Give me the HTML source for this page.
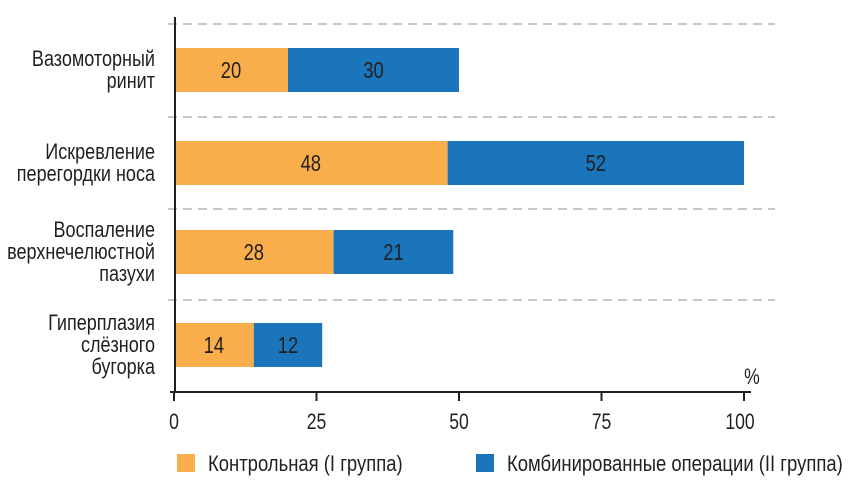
<!DOCTYPE html>
<html><head><meta charset="utf-8"><style>
body{margin:0;background:#fff}
svg text{font-family:"Liberation Sans",sans-serif;fill:#231f20}
</style></head><body>
<svg id="c" width="858" height="486"></svg>
<script>
const categories=[["Вазомоторный","ринит"],["Искревление","перегордки носа"],["Воспаление","верхнечелюстной","пазухи"],["Гиперплазия","слёзного","бугорка"]];
const control=[20,48,28,14];
const combined=[30,52,21,12];
const ticks=[0,25,50,75,100];
const NS="http://www.w3.org/2000/svg",svg=document.getElementById('c');
const x0=174,x1=744;
const xs=v=>x0+(x1-x0)*v/100;
const rowCenters=[70,163,252,345];
function el(t,a,p){const e=document.createElementNS(NS,t);for(const k in a)e.setAttribute(k,a[k]);(p||svg).appendChild(e);return e;}
function txt(x,y,anchor,size,s,sx){const t=el('text',{x:0,y:0,'text-anchor':anchor,'font-size':size,transform:`translate(${x},${y}) scale(${sx||0.8},1)`});t.textContent=s;return t;}
[24,117,209,300].forEach(y=>{const g=el('line',{x1:168,x2:775,y1:y,y2:y,stroke:'#c8c8c8','stroke-width':2,'stroke-dasharray':'9,6'});

});
categories.forEach((c,i)=>{const cy=rowCenters[i],h=44;
const a=el('rect',{x:xs(0)+2,y:cy-h/2,width:xs(control[i])-xs(0)-2,height:h,fill:'#f9ae4b'});


const b=el('rect',{x:xs(control[i]),y:cy-h/2,width:xs(control[i]+combined[i])-xs(control[i]),height:h,fill:'#1b75bb'});


const t1=txt((xs(0)+xs(control[i]))/2,cy+8,'middle',23,control[i]);


const t2=txt((xs(control[i])+xs(control[i]+combined[i]))/2,cy+8,'middle',23,combined[i]);


const lh=22,start=cy-(c.length-1)*lh/2+7;
c.forEach((s,j)=>{const t=txt(155,start+j*lh,'end',22,s,0.82);

});
});
const ya=el('line',{x1:175,x2:175,y1:17,y2:393,stroke:'#231f20','stroke-width':2});


const xa=el('line',{x1:170,x2:751,y1:392,y2:392,stroke:'#231f20','stroke-width':2});


ticks.forEach(v=>{const l=el('line',{x1:xs(v),x2:xs(v),y1:392,y2:401,stroke:'#231f20','stroke-width':2});


const t=txt(xs(v)-(v==100?4:0),429,'middle',22,v);

});
const p=txt(752,384,'middle',22,'%');


const lg=[['#f9ae4b','Контрольная (I группа)',177,208],['#1b75bb','Комбинированные операции (II группа)',476,507]];
lg.forEach(([c,s,sx,tx])=>{const r=el('rect',{x:sx,y:454,width:18,height:18,fill:c});


const t=txt(tx,471,'start',22,s,0.84);

});
</script>
</body></html>
